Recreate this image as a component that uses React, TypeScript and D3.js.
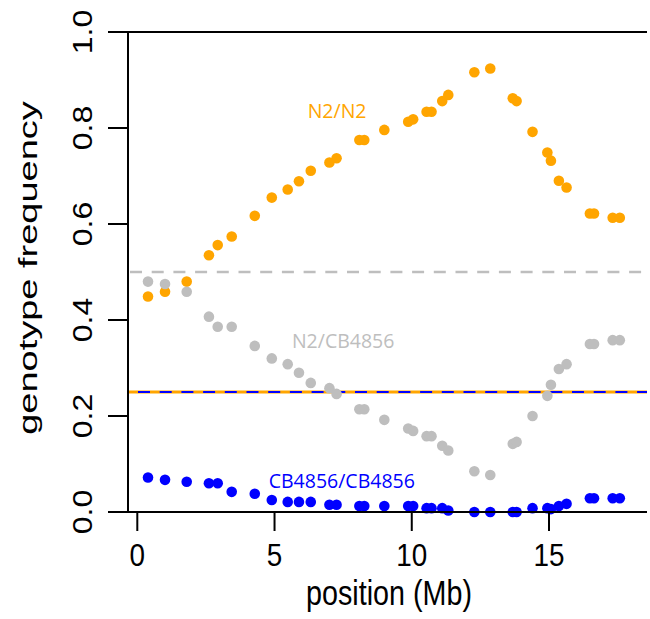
import React from "react";
import * as d3 from "d3";

const positions = [0.39, 1.01, 1.80, 2.61, 2.93, 3.44, 4.28, 4.90, 5.48, 5.89, 6.32, 7.0, 7.26, 8.09, 8.27, 9.0, 9.87, 10.05, 10.54, 10.72, 11.11, 11.33, 12.28, 12.86, 13.68, 13.82, 14.40, 14.94, 15.07, 15.36, 15.64, 16.49, 16.64, 17.32, 17.58];
const n2n2 = [0.449, 0.459, 0.480, 0.535, 0.556, 0.574, 0.617, 0.655, 0.672, 0.689, 0.711, 0.728, 0.737, 0.775, 0.775, 0.796, 0.813, 0.818, 0.834, 0.834, 0.856, 0.869, 0.916, 0.924, 0.862, 0.856, 0.792, 0.749, 0.732, 0.690, 0.676, 0.622, 0.622, 0.613, 0.613];
const het = [0.480, 0.475, 0.459, 0.407, 0.386, 0.386, 0.346, 0.320, 0.308, 0.290, 0.269, 0.258, 0.246, 0.214, 0.214, 0.192, 0.174, 0.169, 0.158, 0.158, 0.138, 0.128, 0.085, 0.077, 0.142, 0.146, 0.200, 0.242, 0.265, 0.298, 0.308, 0.350, 0.350, 0.358, 0.358];
const cbcb = [0.072, 0.067, 0.063, 0.060, 0.060, 0.042, 0.038, 0.025, 0.021, 0.021, 0.021, 0.015, 0.015, 0.0125, 0.0125, 0.0125, 0.0125, 0.0125, 0.008, 0.008, 0.008, 0.003, 0.0, 0.0, 0.0, 0.0, 0.008, 0.008, 0.006, 0.0125, 0.017, 0.0285, 0.0285, 0.0285, 0.0285];
const xTicks = [0, 5, 10, 15];
const yTicks = [0, 0.2, 0.4, 0.6, 0.8, 1.0];
const refLines = [0.5, 0.25];
const seriesLabels = ["N2/N2", "N2/CB4856", "CB4856/CB4856"];
const labelPos = [
  { x: 7.28, y: 0.82 },
  { x: 7.5, y: 0.342 },
  { x: 7.45, y: 0.05 },
];

const ORANGE = "#FFA500";
const GRAY = "#BEBEBE";
const BLUE = "#0000FF";

export default function App() {
  const x = d3.scaleLinear().domain([0, 15]).range([137.3, 549]);
  const y = d3.scaleLinear().domain([0, 1]).range([512, 32]);
  const left = 128;
  const right = 647;
  const series = [
    { vals: n2n2, color: ORANGE },
    { vals: het, color: GRAY },
    { vals: cbcb, color: BLUE },
  ];
  const axisFont = "'Liberation Sans', Arial, Helvetica, sans-serif";
  const labelColors = [ORANGE, GRAY, BLUE];
  return (
    <svg width={650} height={619} style={{ position: "absolute", left: 0, top: 0, background: "#fff" }}>
      <rect x={0} y={0} width={650} height={619} fill="#fff" />
      {/* reference lines */}
      <line x1={left} x2={right} y1={y(refLines[0])} y2={y(refLines[0])} stroke={GRAY} strokeWidth={2.5} strokeDasharray="12 9.7" strokeDashoffset={-2} />
      <line x1={left} x2={right} y1={y(refLines[1])} y2={y(refLines[1])} stroke={ORANGE} strokeWidth={3} />
      <line x1={left} x2={right} y1={y(refLines[1])} y2={y(refLines[1])} stroke={BLUE} strokeWidth={2} strokeDasharray="12 9.7" strokeDashoffset={-10} />
      {/* points */}
      {series.map((s, si) => (
        <g key={si} fill={s.color}>
          {positions.map((p, i) => (
            <circle key={i} cx={x(p)} cy={y(s.vals[i])} r={5.3} />
          ))}
        </g>
      ))}
      {/* series labels */}
      {seriesLabels.map((t, i) => (
        <text key={t} x={x(labelPos[i].x)} y={y(labelPos[i].y)} fill={labelColors[i]} fontFamily="'Open Sans', 'Noto Sans', sans-serif" fontSize={19.5} textAnchor="middle">
          {t}
        </text>
      ))}
      {/* axes */}
      <g stroke="#000" strokeWidth={2} fill="none">
        <line x1={left} x2={left} y1={y(1) - 1} y2={y(0) + 1} />
        <line x1={left - 1} x2={right} y1={y(0)} y2={y(0)} />
        <line x1={left} x2={right} y1={y(1)} y2={y(1)} />
        {yTicks.map((t) => (
          <line key={t} x1={left - 20} x2={left} y1={y(t)} y2={y(t)} />
        ))}
        {xTicks.map((t) => (
          <line key={t} x1={x(t)} x2={x(t)} y1={y(0)} y2={y(0) + 19} />
        ))}
      </g>
      {xTicks.map((t) => (
        <text key={t} transform={`translate(${x(t)},566) scale(0.87,1)`} textAnchor="middle" fontFamily={axisFont} fontSize={32}>
          {t}
        </text>
      ))}
      {yTicks.map((t) => (
        <text key={t} transform={`translate(92,${y(t)}) rotate(-90) scale(1,0.87)`} textAnchor="middle" fontFamily={axisFont} fontSize={32}>
          {t.toFixed(1)}
        </text>
      ))}
      <text transform={`translate(389,605) scale(0.82,1)`} textAnchor="middle" fontFamily={axisFont} fontSize={35}>
        position (Mb)
      </text>
      <text transform={`translate(37,268) rotate(-90) scale(1,0.7)`} textAnchor="middle" fontFamily={axisFont} fontSize={38}>
        genotype frequency
      </text>
    </svg>
  );
}
